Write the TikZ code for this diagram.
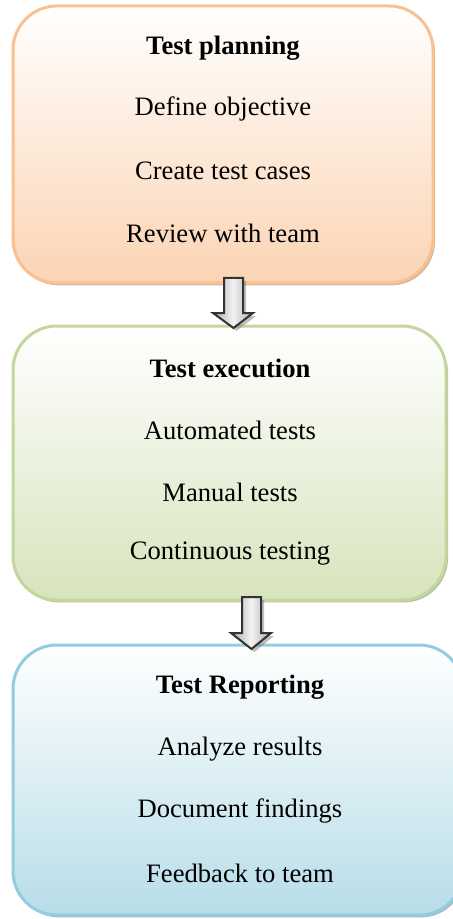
\documentclass[tikz,border=0pt]{standalone}
\usepackage{fontspec}
\setmainfont{Liberation Serif}
\usetikzlibrary{shadows}

\definecolor{planline}{HTML}{FAC08F}
\definecolor{planfill}{HTML}{FBD4B4}
\definecolor{execline}{HTML}{C3D69B}
\definecolor{execfill}{HTML}{D7E4BD}
\definecolor{repline}{HTML}{93CDDD}
\definecolor{repfill}{HTML}{B7DDE8}

\tikzset{
  stage/.style={draw=#1line, line width=1.5pt, rounded corners=22pt,
    top color=white, bottom color=#1fill, inner sep=0pt,
    drop shadow={shadow xshift=1pt, shadow yshift=-1.2pt, fill=#1line!70!black, opacity=.6}},
  head/.style={font=\fontsize{13.3pt}{16pt}\selectfont\bfseries},
  item/.style={font=\fontsize{13.3pt}{16pt}\selectfont},
  blockarrow/.style={draw=gray!40!black, line width=1pt, line join=miter,
    left color=gray!65, right color=gray!65, middle color=gray!10,
    drop shadow={shadow xshift=1.5pt, shadow yshift=-1.5pt, fill=gray, opacity=.5}}
}

\begin{document}
\begin{tikzpicture}[x=0.5pt, y=-0.5pt]
\useasboundingbox (0,0) rectangle (453,919);

% the three stages
\node[stage=plan, minimum width=210pt, minimum height=138.5pt] (plan) at (223,144.5) {};
\node[stage=exec, minimum width=216.5pt, minimum height=137pt] (exec) at (229.5,463) {};
\node[stage=rep, minimum width=225pt, minimum height=135pt] (rep) at (238,780) {};

% arrows between stages
\coordinate (a1) at (224,278);
\draw[blockarrow] (a1) -- ++(19,0) -- ++(0,35) -- ++(10,0) -- ++(-19.5,15) -- ++(-20.5,-15) -- ++(11,0) -- cycle;
\coordinate (a2) at (242,597);
\draw[blockarrow] (a2) -- ++(19,0) -- ++(0,36) -- ++(10,0) -- ++(-19.5,16) -- ++(-20.5,-16) -- ++(11,0) -- cycle;

% texts
\node[head] (planT) at (223,48) {Test planning};
\node[item] (plan1) at (223,109) {Define objective};
\node[item] (plan2) at (223,171) {Create test cases};
\node[item] (plan3) at (223,233) {Review with team};

\node[head] (execT) at (230,368) {Test execution};
\node[item] (exec1) at (230,430) {Automated tests};
\node[item] (exec2) at (230,492) {Manual tests};
\node[item] (exec3) at (230,554) {Continuous testing};

\node[head] (repT) at (240,687) {Test Reporting};
\node[item] (rep1) at (240,749) {Analyze results};
\node[item] (rep2) at (240,811) {Document findings};
\node[item] (rep3) at (240,873) {Feedback to team};

\end{tikzpicture}
\end{document}
